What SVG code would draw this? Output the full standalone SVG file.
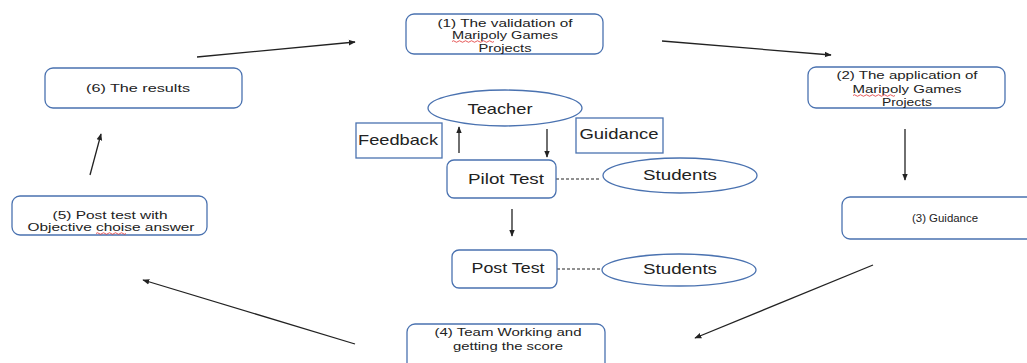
<svg xmlns="http://www.w3.org/2000/svg" width="1027" height="363" viewBox="0 0 1027 363">
<style>
.box{fill:#fff;stroke:#4a72b0;stroke-width:1.3}
.el{fill:#fff;stroke:#4a72b0;stroke-width:1.3}
.t{font-family:"Liberation Sans",Arial,sans-serif;font-size:11.5px;fill:#222;text-anchor:middle;dominant-baseline:central}
.m{font-family:"Liberation Sans",Arial,sans-serif;font-size:14.5px;fill:#222;text-anchor:middle;dominant-baseline:central}
.a{stroke:#222;stroke-width:1.3;fill:none;marker-end:url(#ah)}
.d{stroke:#222;stroke-width:1;stroke-dasharray:3,2;fill:none}
.sq{stroke:#e03030;stroke-width:0.8;fill:none}
</style>
<defs>
<marker id="ah" viewBox="0 0 10 10" refX="9" refY="5" markerWidth="7" markerHeight="7" orient="auto" markerUnits="userSpaceOnUse">
<path d="M0,1 L10,5 L0,9 Z" fill="#222"/>
</marker>
</defs>
<rect width="1027" height="363" fill="#fff"/>
<g id="connectors">
<line class="a" x1="197" y1="57" x2="355" y2="42"/>
<line class="a" x1="662" y1="41" x2="831" y2="55"/>
<line class="a" x1="905" y1="129" x2="905" y2="180"/>
<line class="a" x1="873" y1="265" x2="695" y2="338"/>
<line class="a" x1="355" y1="344" x2="143" y2="280"/>
<line class="a" x1="90" y1="175" x2="101" y2="134"/>
<line class="a" x1="459" y1="153" x2="459" y2="127"/>
<line class="a" x1="547" y1="129" x2="547" y2="157"/>
<line class="a" x1="512" y1="209" x2="512" y2="236"/>
<line class="d" x1="556" y1="179" x2="600" y2="179"/>
<line class="d" x1="557" y1="269" x2="600" y2="269"/>
</g>
<g id="n1">
<rect class="box" x="406" y="14" width="197" height="40" rx="8"/>
<text class="t" x="505" y="23" textLength="135" lengthAdjust="spacingAndGlyphs">(1) The validation of</text>
<text class="t" x="505" y="35" textLength="106" lengthAdjust="spacingAndGlyphs">Maripoly Games</text>
<text class="t" x="505" y="48" textLength="53" lengthAdjust="spacingAndGlyphs">Projects</text>
<path class="sq" d="M452,41.5 q1.5,-1.5 3,0 t3,0 t3,0 t3,0 t3,0 t3,0 t3,0 t3,0 t3,0 t3,0 t3,0 t3,0 t3,0 t3,0"/>
</g>
<g id="n2">
<rect class="box" x="808" y="67" width="197" height="41" rx="8"/>
<text class="t" x="907" y="75" textLength="141" lengthAdjust="spacingAndGlyphs">(2) The application of</text>
<text class="t" x="907" y="89" textLength="109" lengthAdjust="spacingAndGlyphs">Maripoly Games</text>
<text class="t" x="907" y="102" textLength="50" lengthAdjust="spacingAndGlyphs">Projects</text>
<path class="sq" d="M853,95.5 q1.5,-1.5 3,0 t3,0 t3,0 t3,0 t3,0 t3,0 t3,0 t3,0 t3,0 t3,0 t3,0 t3,0 t3,0 t3,0"/>
</g>
<g id="n3">
<rect class="box" x="842" y="197" width="200" height="42" rx="8"/>
<text class="t" x="945" y="218" textLength="66" lengthAdjust="spacingAndGlyphs">(3) Guidance</text>
</g>
<g id="n4">
<rect class="box" x="407" y="324" width="198" height="50" rx="8"/>
<text class="t" x="508" y="332" textLength="147" lengthAdjust="spacingAndGlyphs">(4) Team Working and</text>
<text class="t" x="508" y="346" textLength="110" lengthAdjust="spacingAndGlyphs">getting the score</text>
</g>
<g id="n5">
<rect class="box" x="12" y="196" width="195" height="39" rx="8"/>
<text class="t" x="110" y="215" textLength="115" lengthAdjust="spacingAndGlyphs">(5) Post test with</text>
<text class="t" x="111" y="227" textLength="167" lengthAdjust="spacingAndGlyphs">Objective choise answer</text>
<path class="sq" d="M96,233.5 q1.5,-1.5 3,0 t3,0 t3,0 t3,0 t3,0 t3,0 t3,0 t3,0 t3,0 t3,0"/>
</g>
<g id="n6">
<rect class="box" x="45" y="68" width="197" height="40" rx="8"/>
<text class="t" x="138" y="88" textLength="104" lengthAdjust="spacingAndGlyphs">(6) The results</text>
</g>
<g id="teacher">
<ellipse class="el" cx="505" cy="108" rx="77" ry="18"/>
<text class="m" x="500" y="109" textLength="65" lengthAdjust="spacingAndGlyphs">Teacher</text>
</g>
<g id="feedback">
<rect class="box" x="356" y="123" width="86" height="35"/>
<text class="m" x="398" y="140" textLength="80" lengthAdjust="spacingAndGlyphs">Feedback</text>
</g>
<g id="guidance">
<rect class="box" x="576" y="118" width="87" height="35"/>
<text class="m" x="619" y="134" textLength="79" lengthAdjust="spacingAndGlyphs">Guidance</text>
</g>
<g id="pilot">
<rect class="box" x="447" y="160" width="109" height="38" rx="7"/>
<text class="m" x="506" y="179" textLength="76" lengthAdjust="spacingAndGlyphs">Pilot Test</text>
</g>
<g id="students1">
<ellipse class="el" cx="680" cy="175.5" rx="77" ry="17.5"/>
<text class="m" x="680" y="175" textLength="74" lengthAdjust="spacingAndGlyphs">Students</text>
</g>
<g id="post">
<rect class="box" x="452" y="250" width="105" height="38" rx="7"/>
<text class="m" x="508" y="268" textLength="73" lengthAdjust="spacingAndGlyphs">Post Test</text>
</g>
<g id="students2">
<ellipse class="el" cx="679" cy="270" rx="77" ry="16"/>
<text class="m" x="680" y="269" textLength="74" lengthAdjust="spacingAndGlyphs">Students</text>
</g>
</svg>
